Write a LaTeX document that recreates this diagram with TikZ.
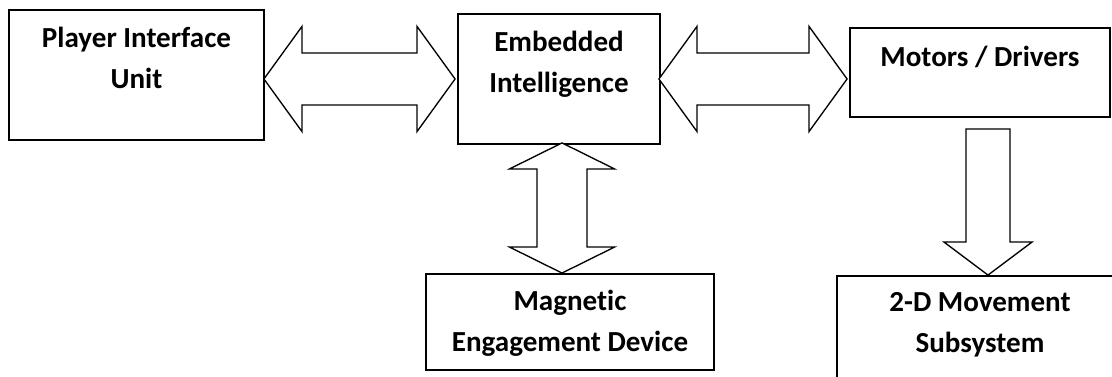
\documentclass[tikz,border=0pt]{standalone}
\usepackage{fontspec}
\setmainfont{Carlito}[Ligatures=NoCommon]
\usetikzlibrary{calc}
\newcommand\hdarrow[5]{%
  \draw[barrow] (#1) -- ($(#1)+(#3,-#4)$) -- ($(#1)+(#3,-#5)$) -- ($(#2)+(-#3,-#5)$) -- ($(#2)+(-#3,-#4)$) -- (#2)
    -- ($(#2)+(-#3,#4)$) -- ($(#2)+(-#3,#5)$) -- ($(#1)+(#3,#5)$) -- ($(#1)+(#3,#4)$) -- cycle;}
\newcommand\vdarrow[5]{%
  \draw[barrow] (#1) -- ($(#1)+(#4,#3)$) -- ($(#1)+(#5,#3)$) -- ($(#2)+(#5,-#3)$) -- ($(#2)+(#4,-#3)$) -- (#2)
    -- ($(#2)+(-#4,-#3)$) -- ($(#2)+(-#5,-#3)$) -- ($(#1)+(-#5,#3)$) -- ($(#1)+(-#4,#3)$) -- cycle;}
\begin{document}
\begin{tikzpicture}[x=0.75pt,y=-0.75pt,
  box/.style={draw, line width=1.4pt, fill=white, inner sep=0pt},
  lbl/.style={font=\bfseries\fontsize{21.8}{30.75}\selectfont, align=center, inner sep=0pt, anchor=base},
  barrow/.style={draw, line width=1pt, fill=white, line join=miter}]
\useasboundingbox (0,0) rectangle (1112,377);
\clip (0,0) rectangle (1112,377);
% boxes
\node[box, minimum width=191.25pt, minimum height=97.5pt] (b1) at (136.5,75) {};
\node[box, minimum width=151.5pt, minimum height=97.5pt] (b2) at (559,79) {};
\node[box, minimum width=195pt, minimum height=66.75pt] (b3) at (980,72.5) {};
\node[box, minimum width=214.5pt, minimum height=93pt] (b4) at (980,338) {};
\node[box, minimum width=216pt, minimum height=72pt] (b5) at (570,322) {};
% connector end points
\coordinate (a1l) at ($(b1.east |- b2.west)+(-1,0)$);
\coordinate (a1r) at ($(b2.west)+(-2,0)$);
\coordinate (a2l) at ($(b2.east)+(-2,0)$);
\coordinate (a2r) at ($(b2.east -| b3.west)+(-2,0)$);
\coordinate (v1t) at ($(b2.south)+(3,-2)$);
\coordinate (v1b) at ($(b2.south |- b5.north)+(3,0)$);
\coordinate (d1t) at ($(b3.south)+(8,11)$);
\coordinate (d1b) at ($(b4.north)+(8,0)$);
% block arrows
\hdarrow{a1l}{a1r}{38}{52.5}{26}
\hdarrow{a2l}{a2r}{38}{52.5}{26}
\vdarrow{v1t}{v1b}{26}{52.5}{25}
\draw[barrow] ($(d1t)+(-22,0)$) -- ($(d1t)+(22,0)$) -- ($(d1b)+(22,-33)$) -- ($(d1b)+(44,-33)$) -- (d1b)
  -- ($(d1b)+(-44,-33)$) -- ($(d1b)+(-22,-33)$) -- cycle;
% labels (anchor = baseline of last line; line pitch 41px)
\node[lbl] (t1) at ($(b1.north)+(0,79)$) {Player Interface\\Unit};
\node[lbl] (t2) at ($(b2.north)+(0,79)$) {Embedded\\Intelligence};
\node[lbl] (t3) at ($(b3.north)+(0,39)$) {Motors / Drivers};
\node[lbl] (t4) at ($(b4.north)+(0,77)$) {2-D Movement\\Subsystem};
\node[lbl] (t5) at ($(b5.north)+(0,78)$) {Magnetic\\Engagement Device};
\end{tikzpicture}
\end{document}
